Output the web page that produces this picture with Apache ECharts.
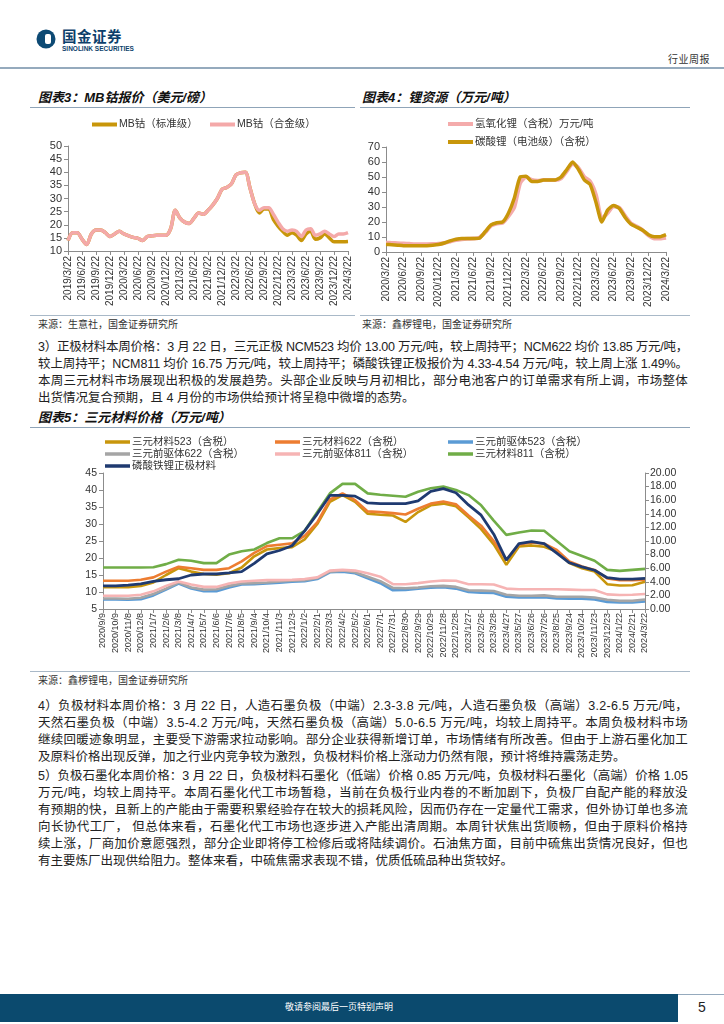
<!DOCTYPE html>
<html><head><meta charset="utf-8">
<script src="https://cdn.jsdelivr.net/npm/echarts@6/dist/echarts.min.js"></script>
<style>
body{margin:0;width:724px;height:1024px;position:relative;background:#fff;font-family:"Liberation Sans","Noto Sans CJK SC",sans-serif;color:#222;overflow:hidden}
.a{position:absolute}
.ln{position:absolute;left:38px;font-size:12.5px;line-height:17px;white-space:nowrap;color:#222}
.ttl{position:absolute;font-size:13px;font-weight:bold;font-style:italic;line-height:16px;white-space:nowrap;color:#111}
.src{position:absolute;font-size:10px;line-height:12px;white-space:nowrap;color:#333}
.hr{position:absolute;height:1px;background:#8fa4b8}
.chart{position:absolute}
</style></head>
<body>
<!-- header -->
<svg class="a" style="left:36px;top:28px" width="22" height="22" viewBox="0 0 22 22">
<circle cx="10" cy="11" r="9.5" fill="#0d4a74"/><rect x="9" y="6" width="6" height="10" rx="2" fill="#fff"/>
</svg>
<div class="a" style="left:62px;top:29px;font-size:14.5px;font-weight:bold;color:#0d3f6b;line-height:16px;letter-spacing:0.5px">国金证券</div>
<div class="a" style="left:62px;top:45px;font-size:6.5px;font-weight:bold;color:#0d3f6b;line-height:8px">SINOLINK SECURITIES</div>
<div class="a" style="left:668px;top:54px;font-size:10px;color:#333;line-height:12px;letter-spacing:0.5px">行业周报</div>
<div class="a" style="left:0;top:67px;width:724px;height:2px;background:#95aabd"></div>

<!-- chart titles -->
<div class="ttl" style="left:38px;top:90px">图表3：MB钴报价（美元/磅）</div>
<div class="ttl" style="left:362px;top:90px">图表4：锂资源（万元/吨）</div>
<div class="hr" style="left:30px;top:107px;width:325px"></div>
<div class="hr" style="left:360px;top:107px;width:330px"></div>
<div id="c3" class="chart" style="left:30px;top:110px;width:330px;height:200px"></div>
<div id="c4" class="chart" style="left:360px;top:110px;width:330px;height:200px"></div>
<div class="hr" style="left:30px;top:315px;width:325px;background:#a9b9c8"></div>
<div class="hr" style="left:360px;top:315px;width:330px;background:#a9b9c8"></div>
<div class="src" style="left:38px;top:319px">来源：生意社，国金证券研究所</div>
<div class="src" style="left:362px;top:319px">来源：鑫椤锂电，国金证券研究所</div>

<!-- para 3 -->
<div class="ln j" style="top:338.5px"><span>3）正极材料本周价格：3 月 22 日，三元正极 NCM523 均价 13.00 万元/吨，较上周持平；NCM622 均价 13.85 万元/吨，</span></div>
<div class="ln j" style="top:355.5px"><span>较上周持平；NCM811 均价 16.75 万元/吨，较上周持平；磷酸铁锂正极报价为 4.33-4.54 万元/吨，较上周上涨 1.49%。</span></div>
<div class="ln j" style="top:372.5px"><span>本周三元材料市场展现出积极的发展趋势。头部企业反映与月初相比，部分电池客户的订单需求有所上调，市场整体</span></div>
<div class="ln" style="top:389.5px"><span>出货情况复合预期，且 4 月份的市场供给预计将呈稳中微增的态势。</span></div>

<div class="ttl" style="left:38px;top:410px">图表5：三元材料价格（万元/吨）</div>
<div class="hr" style="left:30px;top:427px;width:660px"></div>
<div id="c5" class="chart" style="left:30px;top:432px;width:670px;height:235px"></div>
<div class="hr" style="left:30px;top:671px;width:660px;background:#a9b9c8"></div>
<div class="src" style="left:38px;top:675px">来源：鑫椤锂电，国金证券研究所</div>

<!-- para 4 -->
<div class="ln j" style="top:698px"><span>4）负极材料本周价格：3 月 22 日，人造石墨负极（中端）2.3-3.8 元/吨，人造石墨负极（高端）3.2-6.5 万元/吨，</span></div>
<div class="ln j" style="top:715px"><span>天然石墨负极（中端）3.5-4.2 万元/吨，天然石墨负极（高端）5.0-6.5 万元/吨，均较上周持平。本周负极材料市场</span></div>
<div class="ln j" style="top:732px"><span>继续回暖迹象明显，主要受下游需求拉动影响。部分企业获得新增订单，市场情绪有所改善。但由于上游石墨化加工</span></div>
<div class="ln" style="top:749px"><span>及原料价格出现反弹，加之行业内竞争较为激烈，负极材料价格上涨动力仍然有限，预计将维持震荡走势。</span></div>

<!-- para 5 -->
<div class="ln j" style="top:768px"><span>5）负极石墨化本周价格：3 月 22 日，负极材料石墨化（低端）价格 0.85 万元/吨，负极材料石墨化（高端）价格 1.05</span></div>
<div class="ln j" style="top:785px"><span>万元/吨，均较上周持平。本周石墨化代工市场暂稳，当前在负极行业内卷的不断加剧下，负极厂自配产能的释放没</span></div>
<div class="ln j" style="top:802px"><span>有预期的快，且新上的产能由于需要积累经验存在较大的损耗风险，因而仍存在一定量代工需求，但外协订单也多流</span></div>
<div class="ln j" style="top:819px"><span>向长协代工厂，&nbsp;但总体来看，石墨化代工市场也逐步进入产能出清周期。本周针状焦出货顺畅，但由于原料价格持</span></div>
<div class="ln j" style="top:836px"><span>续上涨，厂商加价意愿强烈，部分企业即将停工检修后或将陆续调价。石油焦方面，目前中硫焦出货情况良好，但也</span></div>
<div class="ln" style="top:853px"><span>有主要炼厂出现供给阻力。整体来看，中硫焦需求表现不错，优质低硫品种出货较好。</span></div>

<!-- footer -->
<div class="a" style="left:0;top:994px;width:724px;height:1px;background:#95aabd"></div>
<div class="a" style="left:0;top:994px;width:678px;height:28px;background:#0b4a6e"></div>
<div class="a" style="left:0;top:1001px;width:678px;text-align:center;font-size:9px;color:#fff;line-height:12px">敬请参阅最后一页特别声明</div>
<div class="a" style="left:698px;top:999px;font-size:14px;color:#222;line-height:16px">5</div>

<script>
// ---------- data ----------
function monthLabels(y0, m0, count) { const a = []; let y = y0, m = m0; for (let i = 0; i < count; i++) { a.push(y + '/' + m + '/22'); m++; if (m > 12) { m = 1; y++; } } return a; }
const cats3 = monthLabels(2019, 3, 61);
const cobaltStd = [14,17,17,14.5,12.5,16.5,18,18,17,15.5,16.5,17.5,16.5,15.8,15.2,14.8,14,15.5,15.8,16,16,16,18.5,25.5,22.5,21,20.5,22.5,24.5,24,25.5,27.5,30,33.5,34.2,35.5,39,39.8,40,34,28,24.5,26,26,22,19.5,17.5,16,17,16,14,16.5,17.5,14.5,15,16.5,15,13.5,13.5,13.5,13.6];
const cobaltAlloy = [14,17,17,14.5,12.5,16.5,18,18,17,15.5,16.5,17.5,16.5,15.8,15.2,14.8,14,15.5,15.8,16,16,16,18.5,25.5,22.5,21,20.5,22.5,24.5,24,25.5,27.5,30,33.5,34.2,35.5,39,39.8,40,34,28,25.5,26.5,26.5,24,21,18.5,17.5,18,17.5,15.5,18,18.5,16,16.5,17.5,16.5,15.5,16.5,16.5,17];

const cats4 = monthLabels(2020, 3, 49);
const liOH = [6.2,6,5.8,5.6,5.4,5.2,5.2,5.2,5.3,5.5,6,7,8,8.5,8.8,9,9.5,13,17.5,19,19.5,24,30,46,50,48,47.5,48,48,48,49,54,59,56,50,47,38,22,26,30.5,29.5,24,19,17,14.5,11,9,9,9.5];
const li2CO3 = [5,4.8,4.5,4.2,4.1,4.1,4.1,4.2,4.5,5,6,7.4,8.5,9,9,9,9.2,13.5,18,19.5,20,26,36,50,50.5,47,47,48,48,48,50,55,60,55,48,45,33,20,28,31,29,23,18.5,16.5,14.5,11.5,10.2,10.2,11.5];

const cats5 = ['2020/9/9','2020/10/9','2020/11/8','2020/12/8','2021/1/7','2021/2/6','2021/3/8','2021/4/7','2021/5/7','2021/6/6','2021/7/6','2021/8/5','2021/9/4','2021/10/4','2021/11/3','2021/12/3','2022/1/2','2022/2/1','2022/3/3','2022/4/2','2022/5/2','2022/6/1','2022/7/1','2022/7/31','2022/8/30','2022/9/29','2022/10/29','2022/11/28','2022/12/28','2023/1/27','2023/2/26','2023/3/28','2023/4/27','2023/5/27','2023/6/26','2023/7/26','2023/8/25','2023/9/24','2023/10/24','2023/11/23','2023/12/23','2024/1/22','2024/2/21','2024/3/22'];
const ncm523 = [11.4,11.4,11.4,11.8,12.8,15,17,16,15.3,15.1,15.5,17.2,20.5,22.5,22.9,23.2,25.5,30,36.5,38.5,36.5,33,32.7,32.5,30.6,33.5,35.5,36,35.2,32,28.5,24,18,23.4,23.7,23.3,21.9,18.5,17,16,12.3,11.9,12,13];
const ncm622 = [13.3,13.3,13.3,13.6,14.3,16,17.4,17,16.5,16.5,17,19,21.5,23.5,23.9,24.3,26.5,30.5,37.2,39,37,33.7,33.5,33.2,32.8,34.5,36,36.6,35.8,32.5,29.5,25,19.4,24,24.6,24.2,22.4,19,17.5,16.5,14,13.5,13.5,13.6];
const pre523 = [7.8,7.8,7.7,7.9,9,10.7,12.5,11,10.2,10.2,11.3,12.2,12.3,12.5,12.7,13,13.2,13.8,15.8,16,15.5,14,12.6,10.5,10.6,11,11.3,11.4,11,10,9.8,9.7,8.6,8.4,8.4,8.5,8.1,8,8,7.8,7.1,6.9,6.9,7.2];
const pre622 = [8.1,8.1,8,8.3,9.4,11,12.8,11.3,10.7,10.8,11.8,12.5,12.6,12.8,13.1,13.3,13.5,14.1,16,16.3,15.8,14.5,13.2,11.2,11.1,11.3,11.7,11.8,11.5,10.5,10.4,10.3,9.2,8.9,8.9,9,8.6,8.6,8.6,8.4,7.7,7.4,7.4,7.8];
const pre811 = [8.9,8.9,8.9,9.2,10.2,11.8,13.1,12.2,11.5,11.5,12.5,13.1,13.3,13.5,13.5,13.6,13.8,14.3,16.3,16.5,16.3,15.5,14.5,12.3,12.3,12.6,13.1,13.4,13.3,12.3,12.3,12.2,11,10.8,10.8,10.8,10.8,10.7,10.6,10.6,9.3,9.1,9.2,9.4];
const ncm811 = [17.2,17.2,17.2,17.2,17.3,18.2,19.5,19.2,18.5,18.5,21,22,22.5,24.4,25.8,25.8,28,33.5,39,41.8,41.8,39,38.6,38.3,38,39.5,40.5,41,40,38.5,35.5,31,26.8,27.5,28.1,28,25,22,20.6,19.2,16.5,16.2,16.5,16.8];
const lfp = [3.4,3.4,3.5,3.7,4.05,4.3,4.45,5,5.15,5.15,5.3,5.5,6.7,8.1,8.6,9.3,11.5,14,16.7,16.7,16.6,15.6,15.5,15.5,15.5,15.9,17.3,17.7,17.1,15.3,13.8,11,7.2,9.6,9.9,9.6,8.2,6.8,6.2,5.7,4.6,4.4,4.4,4.5];

// ---------- justify text lines ----------
const LINE_W = 650;
document.querySelectorAll('.ln.j span').forEach(sp => {
  const w = sp.getBoundingClientRect().width;
  const n = sp.textContent.length;
  sp.style.letterSpacing = ((LINE_W - w) / n) + 'px';
});

// ---------- charts ----------
const FF = '"Liberation Sans","Noto Sans CJK SC",sans-serif';
const AX = '#8c8c8c';
const TXT = '#333';
function catAxis(data, opt) {
  return Object.assign({
    type: 'category', data: data, boundaryGap: false,
    axisLine: { lineStyle: { color: AX } },
    axisTick: { length: 4, lineStyle: { color: AX } },
    axisLabel: { rotate: 90, color: TXT, fontSize: 10, fontFamily: FF, margin: 5 },
    splitLine: { show: false }
  }, opt);
}
function valAxis(opt) {
  return Object.assign({
    type: 'value', splitLine: { show: false },
    axisLine: { show: true, lineStyle: { color: AX } },
    axisTick: { show: true, length: 4, lineStyle: { color: AX } },
    axisLabel: { color: TXT, fontSize: 11, fontFamily: FF, margin: 6 }
  }, opt);
}
function legendItem(left, top, names, extra) {
  return Object.assign({
    left: left, top: top, orient: 'vertical', icon: 'rect', itemWidth: 25, itemHeight: 4,
    itemGap: 5, padding: 0, selectedMode: false, data: names,
    textStyle: { fontSize: 10.5, color: TXT, fontFamily: FF, lineHeight: 13, padding: [0, 0, 0, -3] }
  }, extra || {});
}
function line(name, data, color, width, extra) {
  return Object.assign({ type: 'line', name: name, data: data, symbol: 'none', color: color,
    lineStyle: { color: color, width: width }, emphasis: { disabled: true } }, extra || {});
}

const c3 = echarts.init(document.getElementById('c3'), null, { renderer: 'canvas' });
c3.setOption({
  animation: false,
  textStyle: { fontFamily: FF },
  legend: [legendItem(62, 8, ['MB钴（标准级）']), legendItem(180, 8, ['MB钴（合金级）'])],
  grid: { left: 38, right: 12, top: 36, bottom: 59 },
  xAxis: catAxis(cats3, { axisTick: { length: 4, interval: 2, lineStyle: { color: AX } },
    axisLabel: { rotate: 90, interval: 2, color: TXT, fontSize: 10, fontFamily: FF, margin: 5 } }),
  yAxis: valAxis({ min: 10, max: 50, interval: 5 }),
  series: [
    line('MB钴（标准级）', cobaltStd, '#c8960a', 3.5, { smooth: 0.3 }),
    line('MB钴（合金级）', cobaltAlloy, '#f4a9a9', 3.5, { smooth: 0.3 })
  ]
});

const c4 = echarts.init(document.getElementById('c4'));
c4.setOption({
  animation: false,
  textStyle: { fontFamily: FF },
  legend: legendItem(88, 7.5, ['氢氧化锂（含税）万元/吨', '碳酸锂（电池级）（含税）'], { itemGap: 5 }),
  grid: { left: 26, right: 24, top: 37, bottom: 53 },
  xAxis: catAxis(cats4, { axisTick: { length: 4, interval: 2, lineStyle: { color: AX } },
    axisLabel: { rotate: 90, interval: 2, color: TXT, fontSize: 10, fontFamily: FF, margin: 5 } }),
  yAxis: valAxis({ min: 0, max: 70, interval: 10 }),
  series: [
    line('氢氧化锂（含税）万元/吨', liOH, '#f4abab', 4, { smooth: 0.2 }),
    line('碳酸锂（电池级）（含税）', li2CO3, '#c8960a', 3.5, { smooth: 0.2 })
  ]
});

const c5 = echarts.init(document.getElementById('c5'));
const lg5 = { itemGap: 0, itemHeight: 3.5, textStyle: { fontSize: 10.5, color: TXT, fontFamily: FF, lineHeight: 12, padding: [0, 0, 0, -3] } };
c5.setOption({
  animation: false,
  textStyle: { fontFamily: FF },
  legend: [
    legendItem(75, 4, ['三元材料523（含税）', '三元前驱体622（含税）', '磷酸铁锂正极材料'], lg5),
    legendItem(245, 4, ['三元材料622（含税）', '三元前驱体811（含税）'], lg5),
    legendItem(418, 4, ['三元前驱体523（含税）', '三元材料811（含税）'], lg5)
  ],
  grid: { left: 73, right: 55, top: 41, bottom: 58 },
  xAxis: catAxis(cats5, { axisTick: { length: 4, interval: 0, lineStyle: { color: AX } },
    axisLabel: { rotate: 90, interval: 0, color: TXT, fontSize: 9, fontFamily: FF, margin: 4 } }),
  yAxis: [
    valAxis({ min: 5, max: 45, interval: 5, axisLabel: { color: TXT, fontSize: 10.5, fontFamily: FF, margin: 6 } }),
    valAxis({ min: 0, max: 20, interval: 2, position: 'right',
      axisLabel: { color: TXT, fontSize: 10.5, fontFamily: FF, margin: 5, formatter: v => v.toFixed(2) } })
  ],
  series: [
    line('三元材料523（含税）', ncm523, '#c8960c', 2.6),
    line('三元材料622（含税）', ncm622, '#ed7d31', 2.6),
    line('三元前驱体523（含税）', pre523, '#5b9bd5', 2.6),
    line('三元前驱体622（含税）', pre622, '#a5a5a5', 2.6),
    line('三元前驱体811（含税）', pre811, '#f6b4b4', 2.6),
    line('三元材料811（含税）', ncm811, '#70ad47', 2.6),
    line('磷酸铁锂正极材料', lfp, '#1f3a70', 2.8, { yAxisIndex: 1 })
  ]
});
</script>
</body></html>
